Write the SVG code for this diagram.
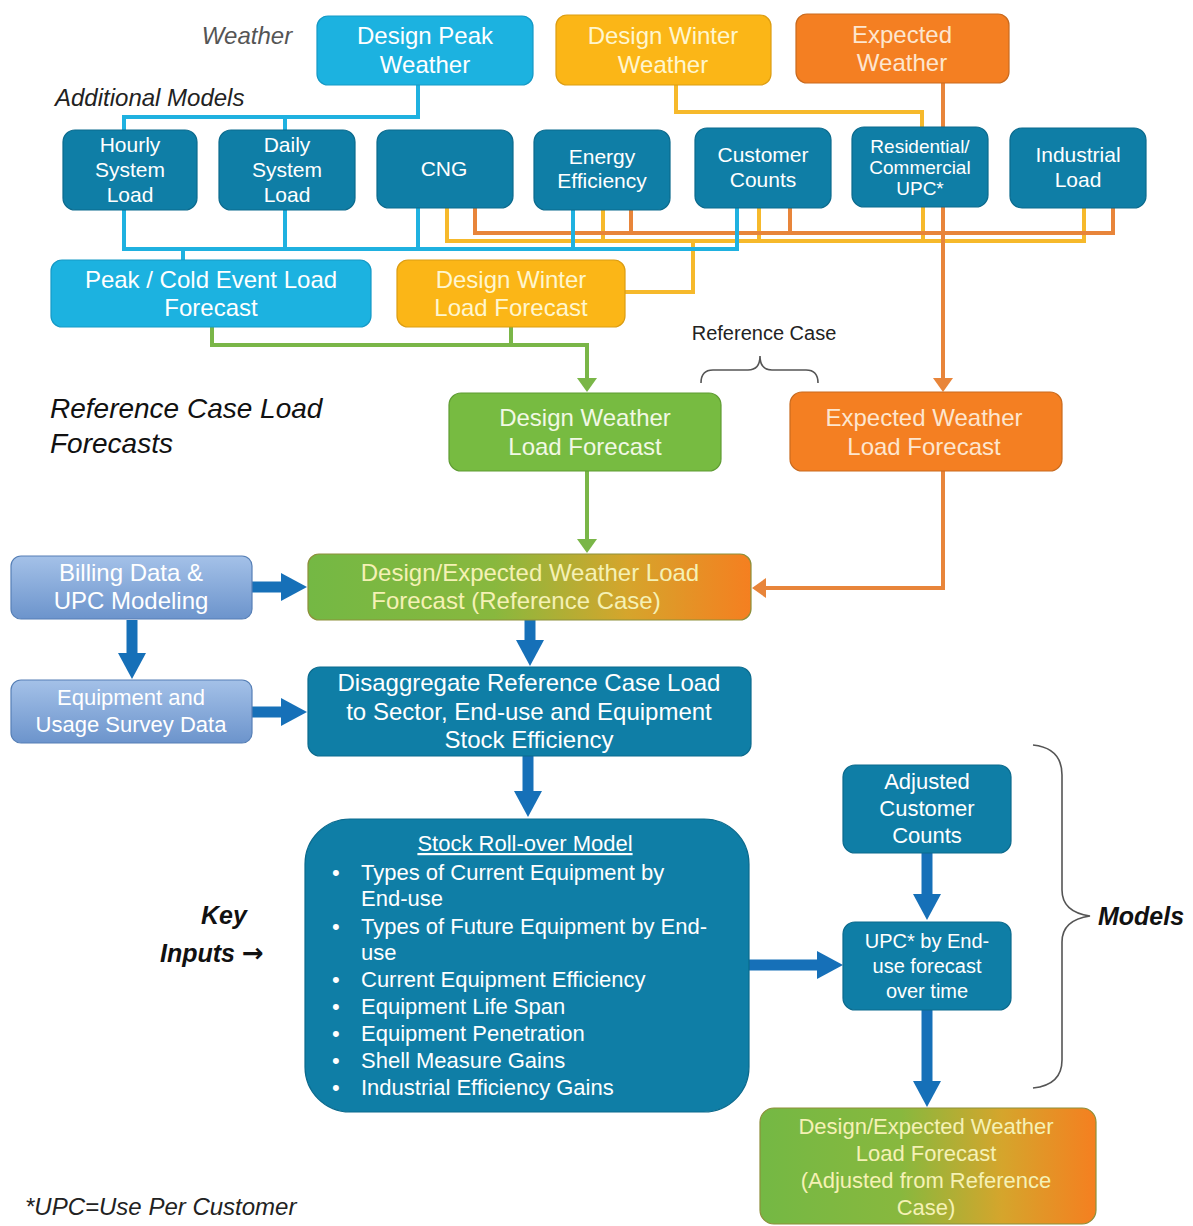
<svg xmlns="http://www.w3.org/2000/svg" width="1193" height="1226" viewBox="0 0 1193 1226">
<defs>
<style>
.t{font-family:"Liberation Sans",Arial,sans-serif;text-anchor:middle;fill:#fff}
.f24{font-size:24px}.f22{font-size:22px}.f21{font-size:21px}.f20{font-size:20px}.f19{font-size:19px}
.cy{fill:#1cb2e0;stroke:#1499c6;stroke-width:1.2}
.am{fill:#fbb617;stroke:#dc9d12;stroke-width:1.2}
.or{fill:#f47f22;stroke:#c96a1e;stroke-width:1.2}
.tl{fill:#0f7ea6;stroke:#0b6a8d;stroke-width:1.2}
.gr{fill:#77bb41;stroke:#5f9c33;stroke-width:1.2}
.sb{fill:url(#sbg);stroke:#567fb6;stroke-width:1.2}
.w{fill:none;stroke-width:4;stroke-linejoin:miter}
.wc{stroke:#1fb1e0}.wa{stroke:#f6b92b}.wo{stroke:#e8853a}.wg{stroke:#7ab648}
.bl{fill:none;stroke:#1670b8;stroke-width:11;marker-end:url(#bh)}
.lab{font-family:"Liberation Sans",Arial,sans-serif;font-style:italic}
.kb{font-family:"Liberation Sans",Arial,sans-serif;font-style:italic;font-weight:bold;font-size:25px;fill:#111}
.brace{fill:none;stroke:#555;stroke-width:1.6}
.ly{fill:#fff6cf}.lo{fill:#fde6cf}.lg{fill:#f1f8e4}.lz{fill:#f5f1b5}
</style>
<linearGradient id="sbg" x1="0" y1="0" x2="0" y2="1">
<stop offset="0" stop-color="#a4c1e8"/><stop offset="1" stop-color="#6c94cc"/>
</linearGradient>
<linearGradient id="go" x1="0" y1="0" x2="1" y2="0">
<stop offset="0" stop-color="#74b844"/><stop offset="0.42" stop-color="#88b83e"/><stop offset="0.72" stop-color="#d5a52c"/><stop offset="1" stop-color="#f57f20"/>
</linearGradient>
<marker id="bh" markerUnits="userSpaceOnUse" markerWidth="26" markerHeight="28" refX="6" refY="14" orient="auto">
<path d="M0,0 L26,14 L0,28 z" fill="#1670b8"/>
</marker>
<marker id="ho" markerUnits="userSpaceOnUse" markerWidth="14" markerHeight="20" refX="2" refY="10" orient="auto">
<path d="M0,0 L14,10 L0,20 z" fill="#e8853a"/>
</marker>
<marker id="hg" markerUnits="userSpaceOnUse" markerWidth="14" markerHeight="20" refX="2" refY="10" orient="auto">
<path d="M0,0 L14,10 L0,20 z" fill="#7ab648"/>
</marker>
</defs>
<rect width="1193" height="1226" fill="#fff"/>

<!-- labels -->
<text class="lab" x="247" y="44" font-size="24" fill="#555" text-anchor="middle">Weather</text>
<text class="lab" x="55" y="106" font-size="24" fill="#222">Additional Models</text>
<text x="764" y="340" font-family="Liberation Sans,Arial,sans-serif" font-size="20" fill="#222" text-anchor="middle">Reference Case</text>
<path class="brace" d="M701,383 Q701,370 713,370 L748,370 Q760,370 760,356 Q760,370 772,370 L806,370 Q818,370 818,383"/>
<text class="lab" x="50" y="418" font-size="28" fill="#111">Reference Case Load</text>
<text class="lab" x="50" y="453" font-size="28" fill="#111">Forecasts</text>
<text class="kb" x="224" y="924" text-anchor="middle">Key</text>
<text class="kb" x="160" y="962">Inputs <tspan font-family="DejaVu Sans,sans-serif" font-style="normal" font-weight="bold" font-size="26">→</tspan></text>
<path class="brace" d="M1033,745 Q1062,748 1062,775 L1062,890 Q1062,912 1090,916 Q1062,920 1062,942 L1062,1060 Q1062,1085 1033,1088"/>
<text class="kb" x="1098" y="925">Models</text>
<text class="lab" x="25" y="1215" font-size="24" fill="#222">*UPC=Use Per Customer</text>

<!-- connectors -->
<g id="connectors">
<path class="w wc" d="M418,85 V117 H124 V130 M285,117 V130"/>
<path class="w wa" d="M676,85 V112 H922 V127"/>
<path class="w wo" d="M943,83 V127"/>
<path class="w wa" d="M447,208 V241 H1084 V208 M603,210 V241 M759,208 V241 M923,207 V241 M693,241 V292 H625"/>
<path class="w wo" d="M475,208 V233 H1113 V208 M631,210 V233 M790,208 V233"/>
<path class="w wc" d="M124,210 V249 H737 V208 M285,210 V249 M418,208 V249 M573,210 V249 M183,249 V260"/>
<path class="w wo" d="M943,207 V380" marker-end="url(#ho)"/>
<path class="w wg" d="M511,327 V345"/>
<path class="w wg" d="M212,327 V345 H587 V380" marker-end="url(#hg)"/>
<path class="w wg" d="M587,471 V541" marker-end="url(#hg)"/>
<path class="w wo" d="M943,471 V588 H764" marker-end="url(#ho)"/>
<path class="bl" d="M252,587 H287"/>
<path class="bl" d="M132,620 V659"/>
<path class="bl" d="M252,712 H287"/>
<path class="bl" d="M530,620 V646"/>
<path class="bl" d="M528,756 V797"/>
<path class="bl" d="M749,965 H823"/>
<path class="bl" d="M927,853 V900"/>
<path class="bl" d="M927,1010 V1087"/>
</g>

<!-- nodes -->
<g id="design-peak-weather"><rect class="cy" x="317" y="16" width="216" height="69" rx="11"/>
<text class="t f24" x="425" y="44">Design Peak</text><text class="t f24" x="425" y="73">Weather</text></g>
<g id="design-winter-weather"><rect class="am" x="556" y="15" width="215" height="70" rx="11"/>
<text class="t f24 ly" x="663" y="44">Design Winter</text><text class="t f24 ly" x="663" y="73">Weather</text></g>
<g id="expected-weather"><rect class="or" x="796" y="14" width="213" height="69" rx="11"/>
<text class="t f24 lo" x="902" y="43">Expected</text><text class="t f24 lo" x="902" y="71">Weather</text></g>

<g id="hourly"><rect class="tl" x="63" y="130" width="134" height="80" rx="12"/>
<text class="t f21" x="130" y="152">Hourly</text><text class="t f21" x="130" y="177">System</text><text class="t f21" x="130" y="202">Load</text></g>
<g id="daily"><rect class="tl" x="219" y="130" width="136" height="80" rx="12"/>
<text class="t f21" x="287" y="152">Daily</text><text class="t f21" x="287" y="177">System</text><text class="t f21" x="287" y="202">Load</text></g>
<g id="cng"><rect class="tl" x="377" y="130" width="136" height="78" rx="12"/>
<text class="t f21" x="444" y="176">CNG</text></g>
<g id="energy-efficiency"><rect class="tl" x="534" y="130" width="136" height="80" rx="12"/>
<text class="t f21" x="602" y="164">Energy</text><text class="t f21" x="602" y="188">Efficiency</text></g>
<g id="customer-counts"><rect class="tl" x="695" y="128" width="136" height="80" rx="12"/>
<text class="t f21" x="763" y="162">Customer</text><text class="t f21" x="763" y="187">Counts</text></g>
<g id="res-com-upc"><rect class="tl" x="852" y="127" width="136" height="80" rx="12"/>
<text class="t f19" x="920" y="153">Residential/</text><text class="t f19" x="920" y="174">Commercial</text><text class="t f19" x="920" y="195">UPC*</text></g>
<g id="industrial-load"><rect class="tl" x="1010" y="128" width="136" height="80" rx="12"/>
<text class="t f21" x="1078" y="162">Industrial</text><text class="t f21" x="1078" y="187">Load</text></g>

<g id="peak-cold"><rect class="cy" x="51" y="260" width="320" height="67" rx="11"/>
<text class="t f24" x="211" y="288">Peak / Cold Event Load</text><text class="t f24" x="211" y="316">Forecast</text></g>
<g id="design-winter-lf"><rect class="am" x="397" y="260" width="228" height="67" rx="11"/>
<text class="t f24 ly" x="511" y="288">Design Winter</text><text class="t f24 ly" x="511" y="316">Load Forecast</text></g>

<g id="design-weather-lf"><rect class="gr" x="449" y="393" width="272" height="78" rx="12"/>
<text class="t f24 lg" x="585" y="426">Design Weather</text><text class="t f24 lg" x="585" y="455">Load Forecast</text></g>
<g id="expected-weather-lf"><rect class="or" x="790" y="392" width="272" height="79" rx="12"/>
<text class="t f24 lo" x="924" y="426">Expected Weather</text><text class="t f24 lo" x="924" y="455">Load Forecast</text></g>

<g id="ref-case-lf"><rect x="308" y="554" width="443" height="66" rx="11" fill="url(#go)" stroke="#8d8f3a" stroke-width="1.2"/>
<text class="t f24 lz" x="530" y="581">Design/Expected Weather Load</text><text class="t f24 lz" x="516" y="609">Forecast (Reference Case)</text></g>
<g id="billing"><rect class="sb" x="11" y="556" width="241" height="63" rx="10"/>
<text class="t f24" x="131" y="581">Billing Data &amp;</text><text class="t f24" x="131" y="609">UPC Modeling</text></g>
<g id="equipment-survey"><rect class="sb" x="11" y="680" width="241" height="63" rx="10"/>
<text class="t f22" x="131" y="705">Equipment and</text><text class="t f22" x="131" y="732">Usage Survey Data</text></g>
<g id="disaggregate"><rect class="tl" x="308" y="667" width="443" height="89" rx="12"/>
<text class="t f24" x="529" y="691">Disaggregate Reference Case Load</text><text class="t f24" x="529" y="720">to Sector, End-use and Equipment</text><text class="t f24" x="529" y="748">Stock Efficiency</text></g>

<g id="stock-rollover"><rect class="tl" x="305" y="819" width="444" height="293" rx="45"/>
<text class="t f22" x="525" y="851" text-decoration="underline">Stock Roll-over Model</text>
<g font-family="Liberation Sans,Arial,sans-serif" font-size="22" fill="#fff">
<text x="332" y="880">•</text><text x="361" y="880">Types of Current Equipment by</text>
<text x="361" y="906">End-use</text>
<text x="332" y="934">•</text><text x="361" y="934">Types of Future Equipment by End-</text>
<text x="361" y="960">use</text>
<text x="332" y="987">•</text><text x="361" y="987">Current Equipment Efficiency</text>
<text x="332" y="1014">•</text><text x="361" y="1014">Equipment Life Span</text>
<text x="332" y="1041">•</text><text x="361" y="1041">Equipment Penetration</text>
<text x="332" y="1068">•</text><text x="361" y="1068">Shell Measure Gains</text>
<text x="332" y="1095">•</text><text x="361" y="1095">Industrial Efficiency Gains</text>
</g></g>

<g id="adjusted-customer-counts"><rect class="tl" x="843" y="765" width="168" height="88" rx="12"/>
<text class="t f22" x="927" y="789">Adjusted</text><text class="t f22" x="927" y="816">Customer</text><text class="t f22" x="927" y="843">Counts</text></g>
<g id="upc-end-use"><rect class="tl" x="843" y="922" width="168" height="88" rx="12"/>
<text class="t f20" x="927" y="948">UPC* by End-</text><text class="t f20" x="927" y="973">use forecast</text><text class="t f20" x="927" y="998">over time</text></g>
<g id="adjusted-lf"><rect x="760" y="1108" width="336" height="116" rx="14" fill="url(#go)" stroke="#8d8f3a" stroke-width="1.2"/>
<text class="t f22 lz" x="926" y="1134">Design/Expected Weather</text><text class="t f22 lz" x="926" y="1161">Load Forecast</text><text class="t f22 lz" x="926" y="1188">(Adjusted from Reference</text><text class="t f22 lz" x="926" y="1215">Case)</text></g>
</svg>
